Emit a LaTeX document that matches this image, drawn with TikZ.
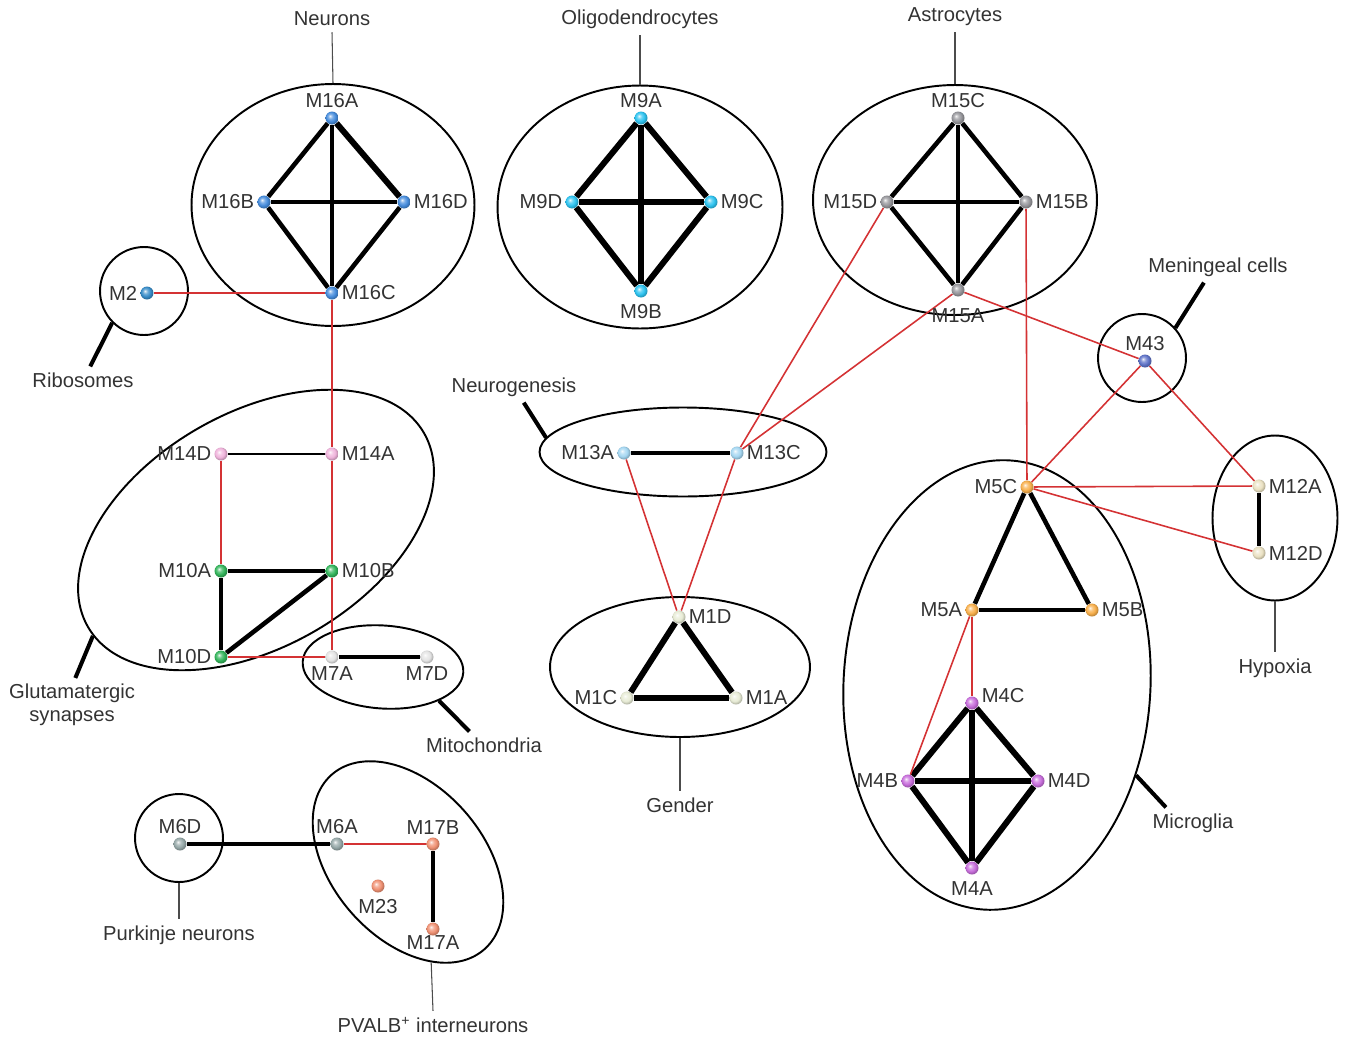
\documentclass[tikz,border=0pt]{standalone}
\usepackage{fontspec}
\setmainfont{Liberation Sans}
\usetikzlibrary{shapes.geometric,backgrounds}

\definecolor{neuro}{RGB}{70,140,220}
\definecolor{ribo}{RGB}{55,140,200}
\definecolor{oligo}{RGB}{45,195,240}
\definecolor{astro}{RGB}{150,150,155}
\definecolor{menin}{RGB}{95,115,200}
\definecolor{neurog}{RGB}{165,215,242}
\definecolor{gend}{RGB}{232,236,214}
\definecolor{synD}{RGB}{240,180,220}
\definecolor{synB}{RGB}{50,180,90}
\definecolor{mito}{RGB}{228,228,228}
\definecolor{purk}{RGB}{150,168,168}
\definecolor{pval}{RGB}{240,145,115}
\definecolor{microC}{RGB}{248,175,75}
\definecolor{microD}{RGB}{200,110,220}
\definecolor{hypox}{RGB}{235,226,195}
\definecolor{crossred}{RGB}{212,50,52}
\colorlet{ballcol}{black}
\pgfdeclareradialshading[ballcol]{softball}{\pgfpoint{-8bp}{8bp}}{%
  color(0bp)=(ballcol!10!white); color(9bp)=(ballcol!70!white);
  color(18bp)=(ballcol); color(25bp)=(ballcol!80!black); color(50bp)=(ballcol!55!black)}

\begin{document}
\begin{tikzpicture}[x=0.02cm, y=-0.02cm,
  every node/.style={font=\fontsize{11.5}{13}\selectfont, text=black!80},
  every label/.style={inner sep=1.5pt},
  mod/.style={circle, inner sep=0pt, minimum size=0.26cm,
    /utils/exec={\colorlet{ballcol}{#1}}, shading=softball},
  group/.style={ellipse, draw, line width=1.1pt, inner sep=0pt},
  ring/.style={circle, draw, line width=1.1pt, inner sep=0pt, minimum size=1.76cm},
  weak/.style={line width=1pt},
  mid/.style={line width=1.8pt},
  link/.style={line width=2.6pt},
  strong/.style={line width=3.4pt},
  cross/.style={line width=0.9pt, crossred},
  lead/.style={line width=0.6pt, black!70},
  boldlead/.style={line width=2.3pt}
]
\useasboundingbox (0,0) rectangle (1350,1038);

% modules
\node[mod=neuro, label=above:M16A] (m16a) at (332,118) {};
\node[mod=neuro, label=left:M16B] (m16b) at (264,202) {};
\node[mod=neuro, label=right:M16D] (m16d) at (404,202) {};
\node[mod=neuro, label=right:M16C] (m16c) at (332,293) {};
\node[mod=ribo, label=left:M2] (m2) at (147,293) {};

\node[mod=oligo, label=above:M9A] (m9a) at (641,118) {};
\node[mod=oligo, label=left:M9D] (m9d) at (572,202) {};
\node[mod=oligo, label=right:M9C] (m9c) at (711,202) {};
\node[mod=oligo, label={[yshift=-2pt]below:M9B}] (m9b) at (641,291) {};

\node[mod=astro, label=above:M15C] (m15c) at (958,118) {};
\node[mod=astro, label=left:M15D] (m15d) at (887,202) {};
\node[mod=astro, label=right:M15B] (m15b) at (1026,202) {};
\node[mod=astro, label={[yshift=-5pt]below:M15A}] (m15a) at (958,290) {};
\node[mod=menin, label=above:M43] (m43) at (1145,361) {};

\node[mod=neurog, label=left:M13A] (m13a) at (624,453) {};
\node[mod=neurog, label=right:M13C] (m13c) at (737,453) {};
\node[mod=gend, label=right:M1D] (m1d) at (679,617) {};
\node[mod=gend, label=left:M1C] (m1c) at (627,698) {};
\node[mod=gend, label=right:M1A] (m1a) at (736,698) {};

\node[mod=synD, label=left:M14D] (m14d) at (221,454) {};
\node[mod=synD, label=right:M14A] (m14a) at (332,454) {};
\node[mod=synB, label=left:M10A] (m10a) at (221,571) {};
\node[mod=synB, label=right:M10B] (m10b) at (332,571) {};
\node[mod=synB, label=left:M10D] (m10d) at (221,657) {};
\node[mod=mito, label=below:M7A] (m7a) at (332,657) {};
\node[mod=mito, label=below:M7D] (m7d) at (427,657) {};

\node[mod=purk, label=above:M6D] (m6d) at (180,844) {};
\node[mod=purk, label=above:M6A] (m6a) at (337,844) {};
\node[mod=pval, label=above:M17B] (m17b) at (433,844) {};
\node[mod=pval, label={[yshift=-2pt]below:M23}] (m23) at (378,886) {};
\node[mod=pval, label={[yshift=2pt]below:M17A}] (m17a) at (433,929) {};

\node[mod=microC, label=left:M5C] (m5c) at (1027,487) {};
\node[mod=microC, label=left:M5A] (m5a) at (972,610) {};
\node[mod=microC, label=right:M5B] (m5b) at (1092,610) {};
\node[mod=microD, label={[yshift=4pt]right:M4C}] (m4c) at (972,703) {};
\node[mod=microD, label=left:M4B] (m4b) at (908,781) {};
\node[mod=microD, label=right:M4D] (m4d) at (1038,781) {};
\node[mod=microD, label={[yshift=-2pt]below:M4A}] (m4a) at (972,868) {};
\node[mod=hypox, label=right:M12A] (m12a) at (1259,486) {};
\node[mod=hypox, label=right:M12D] (m12d) at (1259,553) {};

\begin{scope}[on background layer]
\node[group, minimum width=5.66cm, minimum height=4.84cm] (neurons) at (333,205) {};
\node[group, minimum width=5.7cm, minimum height=4.86cm] (oligos) at (640,207) {};
\node[group, minimum width=5.68cm, minimum height=4.6cm] (astros) at (955,200) {};
\node[ring] (ribos) at (144,291) {};
\node[ring] (mening) at (1142,358) {};
\node[group, minimum width=5.74cm, minimum height=1.78cm] (neurogen) at (683,452) {};
\node[group, minimum width=5.2cm, minimum height=2.8cm] (gender) at (680,667) {};
\node[group, minimum width=7.76cm, minimum height=4.68cm, rotate=30] (glut) at (256,530) {};
\node[group, minimum width=3.22cm, minimum height=1.66cm, rotate=-4] (mitos) at (383,667) {};
\node[ring] (purkinje) at (179,838) {};
\node[group, minimum width=4.64cm, minimum height=3.04cm, rotate=-49] (pvalb) at (408,862) {};
\node[group, minimum width=6.14cm, minimum height=9.0cm, rotate=-3] (microglia) at (997,685) {};
\node[group, minimum width=2.5cm, minimum height=3.3cm] (hypoxia) at (1275,518) {};

\draw[link] (m16a) -- (m16b);
\draw[strong] (m16a) -- (m16d);
\draw[link] (m16b) -- (m16d);
\draw[link] (m16a) -- (m16c);
\draw[link] (m16b) -- (m16c);
\draw[link] (m16d) -- (m16c);

\draw[strong] (m9a) -- (m9d);
\draw[strong] (m9a) -- (m9c);
\draw[strong] (m9d) -- (m9c);
\draw[strong] (m9a) -- (m9b);
\draw[strong] (m9d) -- (m9b);
\draw[strong] (m9c) -- (m9b);

\draw[link] (m15c) -- (m15d);
\draw[link] (m15c) -- (m15b);
\draw[link] (m15d) -- (m15b);
\draw[link] (m15c) -- (m15a);
\draw[link] (m15d) -- (m15a);
\draw[link] (m15b) -- (m15a);

\draw[weak] (m14d) -- (m14a);
\draw[link] (m10a) -- (m10b);
\draw[link] (m10a) -- (m10d);
\draw[link] (m10d) -- (m10b);
\draw[mid] (m7a) -- (m7d);
\draw[link] (m6d) -- (m6a);
\draw[link] (m17b) -- (m17a);

\draw[link] (m13a) -- (m13c);
\draw[strong] (m1d) -- (m1c);
\draw[strong] (m1d) -- (m1a);
\draw[strong] (m1c) -- (m1a);

\draw[link] (m5c) -- (m5a);
\draw[link] (m5c) -- (m5b);
\draw[link] (m5a) -- (m5b);
\draw[strong] (m4c) -- (m4b);
\draw[strong] (m4c) -- (m4d);
\draw[strong] (m4c) -- (m4a);
\draw[strong] (m4b) -- (m4d);
\draw[strong] (m4b) -- (m4a);
\draw[strong] (m4d) -- (m4a);
\draw[link] (m12a) -- (m12d);

% links between modules
\draw[cross] (m2) -- (m16c);
\draw[cross] (m16c) -- (m14a);
\draw[cross] (m14a) -- (m10b);
\draw[cross] (m10b) -- (m7a);
\draw[cross] (m14d) -- (m10a);
\draw[cross] (m10d) -- (m7a);
\draw[cross] (m6a) -- (m17b);
\draw[cross] (m13a) -- (m1d);
\draw[cross] (m13c) -- (m1d);
\draw[cross] (m13c) -- (m15d);
\draw[cross] (m13c) -- (m15a);
\draw[cross] (m15a) -- (m43);
\draw[cross] (m15b) -- (m5c);
\draw[cross] (m43) -- (m5c);
\draw[cross] (m43) -- (m12a);
\draw[cross] (m5c) -- (m12a);
\draw[cross] (m5c) -- (m12d);
\draw[cross] (m5a) -- (m4c);
\draw[cross] (m5a) -- (m4b);
\end{scope}

% group names
\node (lneurons) at (332,19) {Neurons};
\node (loligos) at (640,19) {Oligodendrocytes};
\node (lastros) at (955,17) {Astrocytes};
\node (lmening) at (1218,267) {Meningeal cells};
\node (lribos) at (83,380) {Ribosomes};
\node (lneurogen) at (514,387) {Neurogenesis};
\node[align=center] (lglut) at (72,705) {Glutamatergic\\synapses};
\node (lmitos) at (484,745) {Mitochondria};
\node (lgender) at (680,805) {Gender};
\node (lmicroglia) at (1193,823) {Microglia};
\node (lhypoxia) at (1275,668) {Hypoxia};
\node (lpurkinje) at (179,935) {Purkinje neurons};
\node (lpvalb) at (433,1025) {PVALB\textsuperscript{+} interneurons};

\draw[lead] (neurons.north) -- (lneurons.south);
\draw[lead] (oligos.north) -- (loligos.south);
\draw[lead] (astros.north) -- (lastros.south);
\draw[lead] (gender.south) -- (lgender.north);
\draw[lead] (hypoxia.south) -- (lhypoxia.north);
\draw[lead] (purkinje.south) -- (lpurkinje.north);
\draw[lead] (pvalb.332) -- (lpvalb.north);
\draw[boldlead] (mening.42) -- (lmening.228);
\draw[boldlead] (ribos.225) -- (lribos.62);
\draw[boldlead] (neurogen.174) -- (lneurogen.-58);
\draw[boldlead] (glut.183) -- (lglut.83);
\draw[boldlead] (mitos.333) -- (lmitos.137);
\draw[boldlead] (microglia.330) -- (lmicroglia.150);
\end{tikzpicture}
\end{document}
